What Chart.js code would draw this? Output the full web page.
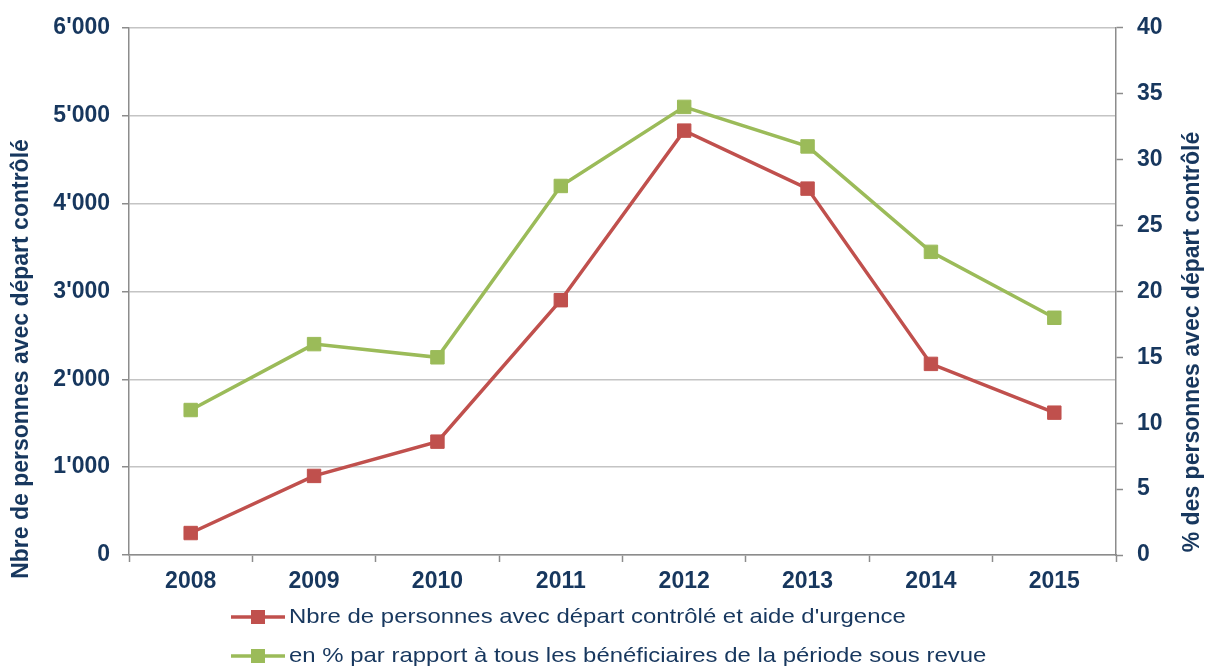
<!DOCTYPE html>
<html><head><meta charset="utf-8">
<script src="https://cdn.jsdelivr.net/npm/chart.js@4.4.1/dist/chart.umd.min.js"></script>
<style>html,body{margin:0;padding:0;background:#fff}#wrap{width:1210px;height:666px;position:relative}</style>
</head><body><div id="wrap"><canvas id="c" width="1210" height="666"></canvas></div>
<script>
const years = ['2008', '2009', '2010', '2011', '2012', '2013', '2014', '2015'];
const persons = [250, 900, 1290, 2900, 4830, 4170, 2175, 1620];
const percent = [11, 16, 15, 28, 34, 31, 23, 18];
const seriesNames = ["Nbre de personnes avec départ contrôlé et aide d'urgence",
                     "en % par rapport à tous les bénéficiaires de la période sous revue"];
const leftTitle = 'Nbre de personnes avec départ contrôlé';
const rightTitle = '% des personnes avec départ contrôlé';
const leftRange = [0, 6000, 1000];
const rightRange = [0, 40, 5];

const NAVY = '#17375E';
const RED = '#C0504D';
const GREEN = '#9BBB59';
const AXIS = '#8C8C8C';
const GRID = '#C4C4C4';
const FONT = "'Liberation Sans', Arial, sans-serif";

function fmt(v) { return String(v).replace(/\B(?=(\d{3})+(?!\d))/g, "'"); }

const extras = {
  id: 'extras',
  afterDraw(chart) {
    const ctx = chart.ctx;
    ctx.save();
    ctx.fillStyle = NAVY;
    ctx.font = 'bold 23px ' + FONT;
    ctx.textAlign = 'center';
    ctx.textBaseline = 'middle';
    // left axis title
    ctx.save();
    ctx.translate(22, 359);
    ctx.rotate(-Math.PI / 2);
    ctx.fillText(leftTitle, 0, 0);
    ctx.restore();
    // right axis title
    ctx.save();
    ctx.translate(1193, 342);
    ctx.rotate(-Math.PI / 2);
    ctx.fillText(rightTitle, 0, 0);
    ctx.restore();
    // legend
    const rowsY = [617, 656];
    chart.data.datasets.forEach((ds, i) => {
      const y = rowsY[i];
      ctx.strokeStyle = ds.borderColor;
      ctx.lineWidth = 3.5;
      ctx.beginPath();
      ctx.moveTo(231, y);
      ctx.lineTo(285, y);
      ctx.stroke();
      ctx.fillStyle = ds.borderColor;
      ctx.fillRect(251, y - 7, 14, 14);
      ctx.save();
      ctx.fillStyle = NAVY;
      ctx.font = '21px ' + FONT;
      ctx.textAlign = 'left';
      ctx.textBaseline = 'middle';
      ctx.translate(289, y);
      ctx.scale(1.14, 1);
      ctx.fillText(ds.label, 0, 0);
      ctx.restore();
    });
    ctx.restore();
  }
};

new Chart(document.getElementById('c'), {
  type: 'line',
  data: {
    labels: years,
    datasets: [
      {
        label: seriesNames[0], data: persons, yAxisID: 'y',
        borderColor: RED, backgroundColor: RED, borderWidth: 3.5,
        pointStyle: 'rect', pointRadius: 9.5, pointHoverRadius: 9.5,
        pointBackgroundColor: RED, pointBorderColor: RED, pointBorderWidth: 1,
        tension: 0, fill: false
      },
      {
        label: seriesNames[1], data: percent, yAxisID: 'y1',
        borderColor: GREEN, backgroundColor: GREEN, borderWidth: 3.5,
        pointStyle: 'rect', pointRadius: 9.5, pointHoverRadius: 9.5,
        pointBackgroundColor: GREEN, pointBorderColor: GREEN, pointBorderWidth: 1,
        tension: 0, fill: false
      }
    ]
  },
  options: {
    responsive: false,
    animation: false,
    devicePixelRatio: 1,
    layout: { padding: { top: 27, left: 0, right: 0, bottom: 0 } },
    plugins: { legend: { display: false }, tooltip: { enabled: false }, title: { display: false } },
    scales: {
      x: {
        type: 'category', offset: true,
        grid: { display: true, drawOnChartArea: false, drawTicks: true, tickLength: 7, tickColor: AXIS, tickWidth: 1.5, offset: true },
        border: { display: true, color: AXIS, width: 1.5 },
        ticks: { color: NAVY, font: { family: FONT, size: 23, weight: 'bold' }, padding: 6, maxRotation: 0 },
        afterFit(s) { s.height = 111; }
      },
      y: {
        position: 'left', min: leftRange[0], max: leftRange[1],
        grid: { color: GRID, lineWidth: 1.5, drawTicks: true, tickLength: 7, tickColor: AXIS, tickWidth: 1.5 },
        border: { display: true, color: AXIS, width: 1.5 },
        ticks: { stepSize: leftRange[2], color: NAVY, font: { family: FONT, size: 23, weight: 'bold' }, padding: 12,
                 callback: v => fmt(v) },
        afterFit(s) { s.width = 129; }
      },
      y1: {
        position: 'right', min: rightRange[0], max: rightRange[1],
        grid: { drawOnChartArea: false, drawTicks: true, tickLength: 7, tickColor: AXIS, tickWidth: 1.5 },
        border: { display: true, color: AXIS, width: 1.5 },
        ticks: { stepSize: rightRange[2], color: NAVY, font: { family: FONT, size: 23, weight: 'bold' }, padding: 14 },
        afterFit(s) { s.width = 94; }
      }
    }
  },
  plugins: [extras]
});
</script>
</body></html>
